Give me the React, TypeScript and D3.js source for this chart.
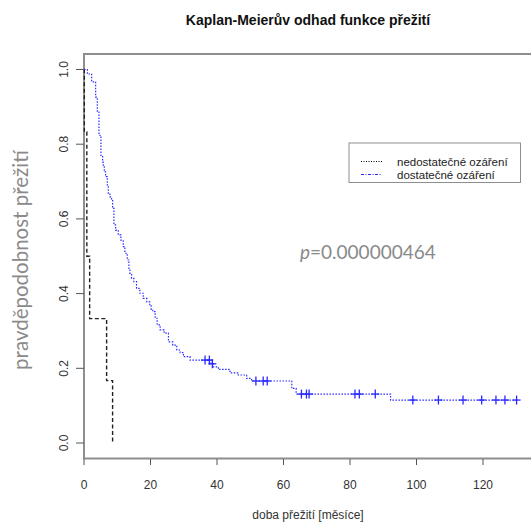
import React from "react";
import * as d3 from "d3";

// Kaplan-Meier step curves: event times (months) and survival after each event
const insuffTimes = [0.1, 0.85, 1.7, 6.8, 8.6];
const insuffSurv = [0.833, 0.5, 0.333, 0.167, 0.0];

const suffTimes = [
  1.0, 2.3, 3.5, 4.0, 4.5, 5.1, 5.6, 5.8, 6.1, 6.5, 7.0, 7.3, 7.8, 8.3, 8.6, 9.0, 9.5,
  10.3, 11.1, 11.8, 12.3, 13.0, 13.5, 13.8, 14.3, 15.0, 15.8, 16.8, 17.8, 18.9, 19.8,
  20.2, 20.7, 21.4, 22.0, 22.9, 24.1, 25.4, 26.7, 27.9, 28.9, 29.9, 31.9, 38.2, 38.9,
  40.4, 43.9, 46.4, 48.9, 50.4, 62.5, 63.8, 92.2,
];
const suffSurv = [
  0.988, 0.967, 0.926, 0.886, 0.824, 0.767, 0.752, 0.744, 0.726, 0.713, 0.691, 0.669,
  0.659, 0.651, 0.628, 0.584, 0.57, 0.557, 0.543, 0.526, 0.508, 0.49, 0.463, 0.454,
  0.441, 0.432, 0.414, 0.401, 0.387, 0.378, 0.369, 0.358, 0.352, 0.334, 0.316, 0.303,
  0.294, 0.271, 0.262, 0.249, 0.242, 0.231, 0.222, 0.212, 0.204, 0.197, 0.188, 0.182,
  0.173, 0.166, 0.146, 0.131, 0.115,
];
const suffEnd = 130.5;
const suffCensored = [
  36.4, 37.7, 38.6, 51.7, 53.9, 55.1, 65.4, 66.9, 67.7, 81.5, 82.8, 87.6, 98.9, 106.6,
  114.0, 119.6, 123.9, 126.6, 130.1,
];

const xTicks = [0, 20, 40, 60, 80, 100, 120];
const yTicks = [0, 0.2, 0.4, 0.6, 0.8, 1.0];

const legendLabels = ["nedostatečné ozáření", "dostatečné ozáření"];
const titleText = "Kaplan-Meierův odhad funkce přežití";
const xLabel = "doba přežití [měsíce]";
const yLabel = "pravděpodobnost přežití";
const pValue = "0.000000464";

const W = 531;
const H = 522;

const x = d3.scaleLinear().domain([0, 120]).range([84, 483]);
const y = d3.scaleLinear().domain([0, 1]).range([443, 69.5]);

const stepLine = d3
  .line<[number, number]>()
  .x((d) => x(d[0]))
  .y((d) => y(d[1]))
  .curve(d3.curveStepAfter);

function stepPoints(times: number[], surv: number[], end?: number): [number, number][] {
  const pts: [number, number][] = [[0, 1]];
  times.forEach((t, i) => pts.push([t, surv[i]]));
  if (end !== undefined) pts.push([end, surv[surv.length - 1]]);
  return pts;
}

function survAt(times: number[], surv: number[], t: number): number {
  let s = 1;
  times.forEach((ti, i) => {
    if (ti <= t) s = surv[i];
  });
  return s;
}

export default function App() {
  const axisColor = "#8e8e8e";
  const tickColor = "#555";
  const labelColor = "#333";
  const font = "'Liberation Sans', Arial, sans-serif";

  const insuffPath = stepLine(stepPoints(insuffTimes, insuffSurv)) || "";
  const suffPath = stepLine(stepPoints(suffTimes, suffSurv, suffEnd)) || "";

  return (
    <svg
      width={W}
      height={H}
      style={{ position: "absolute", left: 0, top: 0, background: "#fff" }}
      fontFamily={font}
    >
      <rect x={0} y={0} width={W} height={H} fill="#fff" />

      {/* title */}
      <text x={308} y={25} textAnchor="middle" fontSize={14} fontWeight="bold" fill="#111">
        {titleText}
      </text>

      {/* plot frame */}
      <path
        d={`M${W + 2},54 H84 V458.5 H${W + 2}`}
        fill="none"
        stroke={axisColor}
        strokeWidth={2}
      />

      {/* y axis ticks and labels */}
      {yTicks.map((t) => (
        <g key={`y${t}`}>
          <line x1={76} x2={84} y1={y(t)} y2={y(t)} stroke={tickColor} strokeWidth={1} />
          <text
            transform={`translate(68,${y(t)}) rotate(-90)`}
            textAnchor="middle"
            fontSize={12}
            fill={labelColor}
          >
            {t.toFixed(1)}
          </text>
        </g>
      ))}

      {/* x axis ticks and labels */}
      {xTicks.map((t) => (
        <g key={`x${t}`}>
          <line x1={x(t)} x2={x(t)} y1={459} y2={465} stroke={tickColor} strokeWidth={1} />
          <text x={x(t)} y={488.5} textAnchor="middle" fontSize={12} fill={labelColor}>
            {t}
          </text>
        </g>
      ))}

      <text x={308} y={519} textAnchor="middle" fontSize={12} fill={labelColor}>
        {xLabel}
      </text>

      <text
        transform="translate(28,260) rotate(-90)"
        textAnchor="middle"
        fontSize={20.5}
        fill="#8a8a8a"
        fontFamily="Lato, 'Open Sans', sans-serif"
      >
        {yLabel}
      </text>

      {/* survival curves */}
      <path d={insuffPath} fill="none" stroke="#222" strokeWidth={1.4} strokeDasharray="4,2.5" />
      <path d={suffPath} fill="none" stroke="#2a2aff" strokeWidth={1.2} strokeDasharray="1.5,1.5" />

      {/* censoring marks */}
      {suffCensored.map((t, i) => {
        const cx = x(t);
        const cy = y(survAt(suffTimes, suffSurv, t));
        return (
          <g key={`c${i}`} stroke="#2a2aff" strokeWidth={1.3}>
            <line x1={cx - 4} x2={cx + 4} y1={cy} y2={cy} />
            <line x1={cx} x2={cx} y1={cy - 4.5} y2={cy + 4.5} />
          </g>
        );
      })}

      {/* legend */}
      <rect x={349} y={143} width={171.5} height={39.5} fill="#fff" stroke={axisColor} strokeWidth={1} />
      <line x1={361} x2={382} y1={161.5} y2={161.5} stroke="#000" strokeWidth={1.1} strokeDasharray="1,1.5" />
      <line x1={361} x2={382} y1={174.5} y2={174.5} stroke="#2a2aff" strokeWidth={1} strokeDasharray="3,1.5,1,1.5" />
      {legendLabels.map((l, i) => (
        <text key={l} x={397} y={165.5 + i * 13} fontSize={11.5} fill="#222">
          {l}
        </text>
      ))}

      {/* log-rank p-value */}
      <text x={300} y={259} fontSize={19} fill="#8a8a8a" fontFamily="Lato, 'Open Sans', sans-serif">
        <tspan fontStyle="italic">p</tspan>
        <tspan>={pValue}</tspan>
      </text>
    </svg>
  );
}
